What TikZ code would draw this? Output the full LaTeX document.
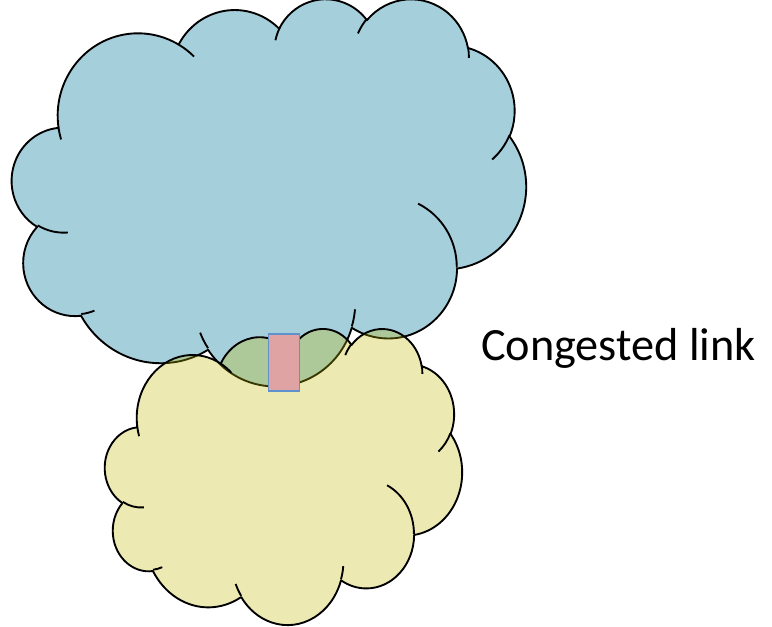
\documentclass[tikz,border=0pt]{standalone}
\usepackage{fontspec}
\setmainfont{Carlito}
\usetikzlibrary{positioning}

\definecolor{skyblue}{RGB}{166,207,220}
\definecolor{sandyellow}{RGB}{192,185,0}
\definecolor{linkpink}{RGB}{224,163,163}
\definecolor{linkblue}{RGB}{95,145,205}

% cloud outline and inner folds, drawn in a 43.2 x 43.2 box
\newcommand\cloudrim{}
\newcommand\cloudfolds{}
\newcommand\makecloud{%
  \gdef\cloudrim{(3.900,14.370)}%
  \foreach \rx/\ry/\sa/\sw in {6.753/9.190/-190.4875/123.7805,
      5.333/7.267/-144.1024/89.9452, 4.365/5.945/-145.8079/99.7230,
      4.857/6.595/-130.9861/117.2417, 5.333/7.273/-78.7089/109.0269,
      6.775/9.220/-46.2673/130.2690, 5.785/7.867/0.6250/114.0333,
      6.752/9.215/22.4516/115.1726, 7.720/10.543/66.2426/75.7110,
      4.360/5.918/-274.9421/146.7356, 4.345/5.945/-246.8285/152.5189}{%
    \pgfmathsetmacro\angA{\sa+mod(atan2(\rx*sin(\sa),\ry*cos(\sa))-\sa+540,360)-180}%
    \pgfmathsetmacro\se{\sa+\sw}%
    \pgfmathsetmacro\angB{\se+mod(atan2(\rx*sin(\se),\ry*cos(\se))-\se+540,360)-180}%
    \xdef\cloudrim{\cloudrim arc[x radius=\rx, y radius=\ry, start angle=\angA, end angle=\angB]}%
  }%
  \xdef\cloudrim{\cloudrim -- cycle}%
  \gdef\cloudfolds{}%
  \foreach \px/\py/\rx/\ry/\sa/\sw in {4.693/26.177/4.345/5.945/86.7420/26.4295,
      6.928/34.899/4.360/5.918/73.6105/11.4475,
      16.478/39.090/6.752/9.215/137.6242/14.0811,
      28.827/34.751/6.752/9.215/6.4533/15.9984,
      34.129/22.954/5.785/7.867/-70.2924/70.9174,
      41.798/15.354/5.333/7.273/30.3180/27.7515,
      38.324/5.426/4.857/6.595/-13.7443/14.8589,
      29.078/3.952/4.857/6.595/-149.1815/18.1954,
      22.141/4.720/4.365/5.945/-163.4943/17.6864,
      14.000/5.192/6.753/9.190/-66.7070/12.3194,
      4.127/15.789/6.753/9.190/157.6544/11.8582}{%
    \pgfmathsetmacro\angA{\sa+mod(atan2(\rx*sin(\sa),\ry*cos(\sa))-\sa+540,360)-180}%
    \pgfmathsetmacro\se{\sa+\sw}%
    \pgfmathsetmacro\angB{\se+mod(atan2(\rx*sin(\se),\ry*cos(\se))-\se+540,360)-180}%
    \xdef\cloudfolds{\cloudfolds (\px,\py) arc[x radius=\rx, y radius=\ry, start angle=\angA, end angle=\angB]}%
  }%
}

\begin{document}
\begin{tikzpicture}[x=0.03cm, y=-0.03cm,
    cloudline/.style={draw=black, line width=1.6pt, line join=round},
    linkbox/.style={draw=linkblue, fill=linkpink, line width=1.2pt,
      minimum width=0.93cm, minimum height=1.71cm, inner sep=0pt}
  ]
    \useasboundingbox (0,0) rectangle (772,627);
    \makecloud
    % upper network
    \begin{scope}[shift={(12,-2)}, x=0.35694cm, y=-0.26875cm]
      \path[cloudline, fill=skyblue] \cloudrim;
      \path[cloudline] \cloudfolds;
    \end{scope}
    % lower network, see-through
    \begin{scope}[shift={(105,328)}, x=0.24792cm, y=-0.20556cm]
      \path[cloudline, fill=sandyellow, fill opacity=0.3] \cloudrim;
      \path[cloudline] \cloudfolds;
    \end{scope}
    \node[linkbox] (link) at (284,362.5) {};
    \node[anchor=base west, font=\fontsize{39.5}{47}\selectfont] (congested)
      at (477,361) {Congested link};
  \end{tikzpicture}
\end{document}
